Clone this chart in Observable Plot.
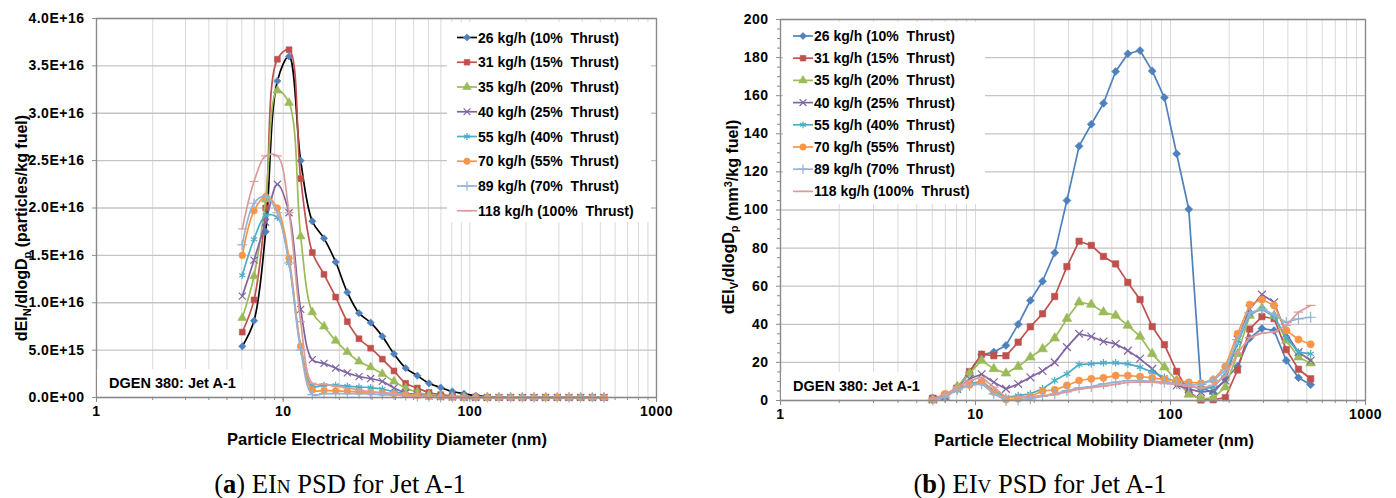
<!DOCTYPE html>
<html>
<head>
<meta charset="utf-8">
<script src="https://cdn.jsdelivr.net/npm/d3@7"></script>
<script src="https://cdn.jsdelivr.net/npm/@observablehq/plot@0.6"></script>
<style>
  html, body { margin: 0; padding: 0; background: #fff; }
  #wrap { display: flex; width: 1396px; height: 498px; }
  .panel { width: 698px; position: relative; }
  .panel svg { display: block; }
  .cap { font-family: "Liberation Serif", "Times New Roman", serif; font-size: 26.5px; line-height: 26px;
         text-align: center; margin-top: 21px; color: #000; }
  .cap .sc { font-size: 0.72em; }
</style>
</head>
<body>
<div id="wrap">
  <div class="panel" id="pa"></div>
  <div class="panel" id="pb"></div>
</div>
<script>
// ---------- data ----------
// particle electrical mobility diameter bins (nm)
const diameters = [6.04, 6.98, 8.06, 9.31, 10.75, 12.41, 14.33, 16.55, 19.11, 22.07, 25.48, 29.43, 33.98, 39.24, 45.32, 52.33,
  60.43, 69.78, 80.58, 93.06, 107.5, 124.1, 143.3, 165.5, 191.1, 220.7, 254.8, 294.3, 339.8, 392.4, 453.2, 523.3];

const seriesLabels = ["26 kg/h (10%  Thrust)", "31 kg/h (15%  Thrust)", "35 kg/h (20%  Thrust)", "40 kg/h (25%  Thrust)",
  "55 kg/h (40%  Thrust)", "70 kg/h (55%  Thrust)", "89 kg/h (70%  Thrust)", "118 kg/h (100%  Thrust)"];

// (a) dEI_N/dlogDp, in units of 1E+16 particles/kg fuel
const N26  = [0.54, 0.81, 1.75, 3.34, 3.60, 2.50, 1.86, 1.68, 1.43, 1.11, 0.89, 0.79, 0.645, 0.46, 0.31, 0.23, 0.15, 0.105, 0.063, 0.04, 0.02, 0.01, 0.005, 0, 0, 0, 0, 0, 0, 0, 0, 0];
const N31  = [0.69, 1.03, 2.00, 3.57, 3.67, 2.31, 1.53, 1.30, 1.06, 0.80, 0.62, 0.52, 0.405, 0.28, 0.15, 0.10, 0.053, 0.03, 0.015, 0.008, 0.004, 0, 0, 0, 0, 0, 0, 0, 0, 0, 0, 0];
const N35  = [0.84, 1.28, 2.09, 3.24, 3.11, 1.70, 0.90, 0.75, 0.60, 0.48, 0.38, 0.32, 0.25, 0.17, 0.10, 0.056, 0.03, 0.015, 0.008, 0.003, 0, 0, 0, 0, 0, 0, 0, 0, 0, 0, 0, 0];
const N40  = [1.07, 1.45, 1.85, 2.25, 1.95, 0.93, 0.40, 0.36, 0.31, 0.26, 0.22, 0.20, 0.17, 0.10, 0.05, 0.03, 0.015, 0.008, 0.004, 0, 0, 0, 0, 0, 0, 0, 0, 0, 0, 0, 0, 0];
const N55  = [1.29, 1.67, 1.92, 1.90, 1.42, 0.54, 0.12, 0.13, 0.13, 0.12, 0.11, 0.105, 0.09, 0.06, 0.04, 0.02, 0.01, 0.005, 0, 0, 0, 0, 0, 0, 0, 0, 0, 0, 0, 0, 0, 0];
const N70  = [1.50, 1.97, 2.12, 2.00, 1.47, 0.54, 0.08, 0.074, 0.07, 0.065, 0.06, 0.055, 0.05, 0.04, 0.03, 0.02, 0.01, 0.005, 0, 0, 0, 0, 0, 0, 0, 0, 0, 0, 0, 0, 0, 0];
const N89  = [1.61, 2.05, 2.12, 1.95, 1.42, 0.50, 0.03, 0.04, 0.04, 0.04, 0.04, 0.035, 0.03, 0.025, 0.02, 0.01, 0.005, 0, 0, 0, 0, 0, 0, 0, 0, 0, 0, 0, 0, 0, 0, 0];
const N118 = [1.78, 2.28, 2.55, 2.55, 1.95, 0.80, 0.15, 0.14, 0.12, 0.10, 0.08, 0.06, 0.05, 0.04, 0.02, 0.01, 0.005, 0, 0, 0, 0, 0, 0, 0, 0, 0, 0, 0, 0, 0, 0, 0];

// (b) dEI_V/dlogDp, mm3/kg fuel
const V26  = [1.4, 2.6, 6, 14.5, 24, 25.4, 28.9, 40, 52.5, 62.6, 77.5, 105, 133.5, 145, 156, 172.7, 182, 183.7, 173, 159, 129.5, 100.4, 7, 4, 11, 18, 32.7, 37.8, 36.7, 21, 12, 8.3];
const V31  = [1.2, 2.6, 6.5, 15.2, 24.3, 23.5, 23.5, 30.6, 38.7, 45.5, 54.6, 70.3, 83.6, 81.4, 75.6, 71.7, 62, 53, 38.8, 29.3, 15.3, 4.5, 0.3, 0.4, 1.5, 16, 37.5, 44, 43, 26.7, 16.4, 11.4];
const V35  = [0.4, 1.7, 7.3, 14.2, 21, 16.6, 14.3, 17.8, 22.7, 27, 32.7, 43, 51.6, 50.4, 46.4, 44.6, 39.4, 33.6, 24.5, 17.5, 10.5, 3.2, 0.9, 1.2, 7, 24.5, 44.6, 48.5, 44.6, 31.5, 22.7, 19.6];
const V40  = [0.5, 2, 6, 11.4, 13.8, 9.6, 6.1, 8.7, 12.2, 15.5, 20, 28, 35, 33.6, 31, 29.7, 26.2, 21.9, 16.6, 10.5, 7.9, 6.1, 4.4, 5.2, 10.5, 32, 48, 55.6, 51.6, 35, 25.4, 21];
const V55  = [0.5, 2.1, 6.1, 8.7, 10.1, 5.2, 1.7, 2.6, 3.5, 6.1, 10.5, 14, 18.9, 19.2, 19.8, 19.8, 19.2, 17.5, 14.9, 12.2, 9.6, 7.9, 6, 7, 14, 30, 45.5, 48, 44, 33, 25.4, 24.5];
const V70  = [0.3, 3.5, 6.1, 8.2, 9.6, 4.4, 0.5, 0.9, 2.1, 5, 5.6, 7.9, 10.5, 11.4, 11.9, 13.1, 13.1, 12.6, 11.9, 11, 10.5, 9.5, 9.1, 10.8, 17.8, 35, 50.4, 53, 49.9, 36.8, 32, 29.5];
const V89  = [0.2, 1.7, 5.6, 7.9, 8.7, 3.5, 0, 0.3, 0.9, 2.2, 3.5, 5.2, 6.6, 7.3, 8.7, 9.6, 10.5, 10.5, 10.1, 9.6, 8.7, 8, 8.5, 10.5, 16, 32, 46, 48, 45, 41, 42.9, 43.7];
const V118 = [0.9, 3, 7, 10.5, 12.2, 7, 1.7, 1.7, 2.1, 2.6, 3, 4.5, 6, 6.8, 7.5, 8.5, 9.5, 9.8, 9.6, 9, 8.5, 7.5, 6.5, 8, 13, 25, 33, 35.3, 36, 39.4, 46.4, 49.9];

// ticks
const xTicksMajor = [1, 10, 100, 1000];
const xTicksMinor = [1, 2, 3, 4, 5, 6, 7, 8, 9, 10, 20, 30, 40, 50, 60, 70, 80, 90, 100, 200, 300, 400, 500, 600, 700, 800, 900, 1000];
const yTicksN = [0, 0.5e16, 1e16, 1.5e16, 2e16, 2.5e16, 3e16, 3.5e16, 4e16];
const yTicksV = [0, 20, 40, 60, 80, 100, 120, 140, 160, 180, 200];
const yTicksVMinor = [5, 10, 15, 25, 30, 35, 45, 50, 55, 65, 70, 75, 85, 90, 95, 105, 110, 115, 125, 130, 135, 145, 150, 155, 165, 170, 175, 185, 190, 195];

// ---------- styles ----------
const markerColors = ["#4F81BD", "#C0504D", "#9BBB59", "#8064A2", "#4BACC6", "#F79646", "#95B3D7", "#DC9B9B"];
const lineColorsA = ["#000000", "#C0504D", "#9BBB59", "#8064A2", "#4BACC6", "#F79646", "#95B3D7", "#DC9B9B"];
const lineColorsB = markerColors;
const dash = { draw(ctx, size) { const w = Math.sqrt(size) * 0.75; ctx.moveTo(-w, 0); ctx.lineTo(w, 0); } };
const symbols = [d3.symbolDiamond2, d3.symbolSquare, d3.symbolTriangle, d3.symbolTimes, d3.symbolAsterisk, d3.symbolCircle, d3.symbolPlus, dash];
const filled = [true, true, true, false, false, true, false, false];

const FONT = "'Liberation Sans', Arial, sans-serif";

const fmtE = d => {
  const [m, e] = d.toExponential(1).split("e");
  return `${m}E${e[0]}${e.slice(1).padStart(2, "0")}`;
};

function seriesMarks(arrays, unit, lineColors, curve, r) {
  const marks = [];
  arrays.forEach((vals, i) => {
    const pts = vals.map((v, j) => ({ d: diameters[j], v: v * unit }));
    marks.push(Plot.line(pts, { x: "d", y: "v", stroke: lineColors[i], strokeWidth: 1.7, curve }));
    marks.push(Plot.dot(pts, {
      x: "d", y: "v", symbol: symbols[i], r,
      fill: filled[i] ? markerColors[i] : "none",
      stroke: markerColors[i], strokeWidth: filled[i] ? 0.6 : 1.2
    }));
  });
  return marks;
}

function addLegend(svg, x0, y0, w, h, firstY, step, lineColors) {
  const g = svg.append("g").attr("text-anchor", "start").style("letter-spacing", "0px");
  g.append("rect").attr("x", x0).attr("y", y0).attr("width", w).attr("height", h).attr("fill", "#fff");
  seriesLabels.forEach((lab, i) => {
    const y = firstY + i * step, lx = x0 + 10;
    g.append("line").attr("x1", lx).attr("x2", lx + 20).attr("y1", y).attr("y2", y)
      .attr("stroke", lineColors[i]).attr("stroke-width", 1.7);
    g.append("path").attr("transform", `translate(${lx + 10},${y})`)
      .attr("d", d3.symbol(symbols[i], 32)())
      .attr("fill", filled[i] ? markerColors[i] : "none")
      .attr("stroke", markerColors[i]).attr("stroke-width", filled[i] ? 0.6 : 1.2);
    g.append("text").attr("x", lx + 21).attr("y", y).attr("dy", "0.36em").attr("text-anchor", "start")
      .attr("font-family", FONT).attr("font-weight", "bold").attr("font-size", 14)
      .attr("fill", "#000").style("white-space", "pre").style("letter-spacing", "0px").text(lab);
  });
}

function addNote(svg, x, y, w, h) {
  svg.append("rect").attr("x", x).attr("y", y).attr("width", w).attr("height", h).attr("fill", "#fff");
  svg.append("text").attr("x", x + 12).attr("y", y + h / 2).attr("dy", "0.36em").attr("text-anchor", "start")
    .attr("font-family", FONT).attr("font-weight", "bold").attr("font-size", 14.5).attr("fill", "#000")
    .style("letter-spacing", "0px").text("DGEN 380: Jet A-1");
}

function addXTitle(svg, cx, cy) {
  svg.append("text").attr("x", cx).attr("y", cy).attr("dy", "0.36em").attr("text-anchor", "middle")
    .attr("font-family", FONT).attr("font-weight", "bold").attr("font-size", 16.5).attr("fill", "#000")
    .style("letter-spacing", "0px").text("Particle Electrical Mobility Diameter (nm)");
}

function addYTitle(svg, cx, cy, sub1, rest) {
  const t = svg.append("text").attr("transform", `translate(${cx},${cy}) rotate(-90)`)
    .attr("text-anchor", "middle").attr("dy", "0.36em").style("letter-spacing", "0px")
    .attr("font-family", FONT).attr("font-weight", "bold").attr("font-size", 16).attr("fill", "#000");
  t.append("tspan").text("dEI");
  t.append("tspan").attr("font-size", 11).attr("dy", 4).text(sub1);
  t.append("tspan").attr("dy", -4).text("/dlogD");
  t.append("tspan").attr("font-size", 11).attr("dy", 4).text("p");
  t.append("tspan").attr("dy", -4).style("white-space", "pre").text(rest);
  return t;
}

const common = () => ({
  width: 698, height: 450,
  x: { type: "log", domain: [1, 1000] },
  style: { fontFamily: FONT, fontWeight: "bold", fontSize: "14px", letterSpacing: "0.5px", color: "#000", background: "#fff", overflow: "visible" }
});

// ---------- chart (a) ----------
const chartA = Plot.plot({
  ...common(),
  marginLeft: 96, marginRight: 42, marginTop: 18, marginBottom: 53,
  y: { domain: [0, 4e16] },
  marks: [
    Plot.gridX(xTicksMinor, { stroke: "#D9D9D9", strokeOpacity: 1, strokeWidth: 1 }),
    Plot.gridY(yTicksN, { stroke: "#C4C4C4", strokeOpacity: 1, strokeWidth: 1.3 }),
    ...seriesMarks([N26, N31, N35, N40, N55, N70, N89, N118], 1e16, lineColorsA, "catmull-rom", 3.3),
    Plot.frame({ stroke: "#8A8A8A", strokeWidth: 1.4 }),
    Plot.axisX(xTicksMinor, { tickFormat: () => "", tickSize: 3, stroke: "#8A8A8A", label: null }),
    Plot.axisX(xTicksMajor, { tickFormat: d => String(d), tickSize: 5, tickPadding: 4, stroke: "#8A8A8A", label: null }),
    Plot.axisY(yTicksN, { tickFormat: fmtE, tickSize: 4, tickPadding: 8, stroke: "#8A8A8A", label: null })
  ]
});
document.getElementById("pa").appendChild(chartA);
{
  const svg = d3.select(chartA);
  addNote(svg, 97, 369, 145, 27);
  addLegend(svg, 447, 22, 204, 200, 37.5, 24.75, lineColorsA);
  addXTitle(svg, 387, 439);
  addYTitle(svg, 21, 228, "N", " (particles/kg fuel)");
}
const capA = document.createElement("div");
capA.className = "cap";
capA.style.paddingRight = "18px";
capA.innerHTML = '(<b>a</b>) EI<span class="sc">N</span> PSD for Jet A-1';
document.getElementById("pa").appendChild(capA);

// ---------- chart (b) ----------
const chartB = Plot.plot({
  ...common(),
  marginLeft: 82, marginRight: 31, marginTop: 19, marginBottom: 50,
  y: { domain: [0, 200] },
  marks: [
    Plot.gridX(xTicksMinor, { stroke: "#D9D9D9", strokeOpacity: 1, strokeWidth: 1 }),
    Plot.gridY(yTicksV, { stroke: "#C4C4C4", strokeOpacity: 1, strokeWidth: 1.3 }),
    ...seriesMarks([V26, V31, V35, V40, V55, V70, V89, V118], 1, lineColorsB, "linear", 3.6),
    Plot.frame({ stroke: "#8A8A8A", strokeWidth: 1.4 }),
    Plot.axisX(xTicksMinor, { tickFormat: () => "", tickSize: 3, stroke: "#8A8A8A", label: null }),
    Plot.axisX(xTicksMajor, { tickFormat: d => String(d), tickSize: 5, tickPadding: 4, stroke: "#8A8A8A", label: null }),
    Plot.axisY(yTicksVMinor, { tickFormat: () => "", tickSize: 3, stroke: "#8A8A8A", label: null }),
    Plot.axisY(yTicksV, { tickFormat: d => String(d), tickSize: 4, tickPadding: 8, stroke: "#8A8A8A", label: null })
  ]
});
document.getElementById("pb").appendChild(chartB);
{
  const svg = d3.select(chartB);
  addNote(svg, 83, 372, 145, 27);
  addLegend(svg, 85, 22, 202, 182, 36, 22.2, lineColorsB);
  addXTitle(svg, 396, 440);
  const t = addYTitle(svg, 30, 217, "V", "");
  t.append("tspan").style("white-space", "pre").text(" (mm");
  t.append("tspan").attr("font-size", 11).attr("dy", -6).text("3");
  t.append("tspan").attr("dy", 6).text("/kg fuel)");
}
const capB = document.createElement("div");
capB.className = "cap";
capB.style.paddingRight = "14px";
capB.innerHTML = '(<b>b</b>) EI<span class="sc">V</span> PSD for Jet A-1';
document.getElementById("pb").appendChild(capB);
</script>
</body>
</html>
